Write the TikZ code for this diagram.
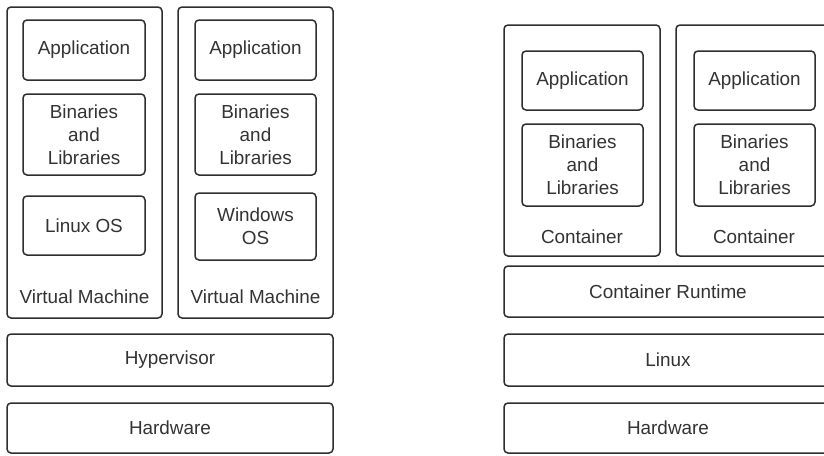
\documentclass[tikz,border=0pt]{standalone}
\usepackage{fontspec}
\setmainfont{Liberation Sans}
\definecolor{edge}{HTML}{2E2E2E}
\definecolor{ink}{HTML}{333333}
\tikzset{
  layer/.style={draw=edge, line width=1.5pt, rounded corners=4pt, inner sep=0pt,
    text=ink, align=center, font=\fontsize{18.9}{23}\selectfont},
  caption/.style={text=ink, inner sep=0pt, font=\fontsize{18.9}{23}\selectfont}
}
\newcommand{\slab}[5]{% name, x-left, y-top, x-right, y-bottom
  \node[layer, minimum width={(#4-#2)*1pt}, minimum height={(#5-#3)*1pt}]
    (#1) at ({(#2+#4)/2}, {(#3+#5)/2}) {};}
\begin{document}
\begin{tikzpicture}[x=1pt, y=-1pt]
  \useasboundingbox (0,0) rectangle (824,455);
  \clip (0,0) rectangle (824,455);

  % ---- virtual machine stack ----
  \slab{vmA}{7}{7}{162}{318}
  \slab{vmB}{178}{7}{333}{318}
  \node[caption] (vmAlabel) at (84.5,297) {Virtual Machine};
  \node[caption] (vmBlabel) at (255.5,297) {Virtual Machine};

  \node[layer, minimum width=122pt, minimum height=60pt] (appA) at (84,50) {Application};
  \node[layer, minimum width=122pt, minimum height=81pt] (binA) at (84,134.5) {Binaries\\and\\Libraries};
  \node[layer, minimum width=122pt, minimum height=59pt] (osA) at (84,225.5) {Linux OS};

  \node[layer, minimum width=121pt, minimum height=60pt] (appB) at (255.5,50) {Application};
  \node[layer, minimum width=121pt, minimum height=81pt] (binB) at (255.5,134.5) {Binaries\\and\\Libraries};
  \node[layer, minimum width=121pt, minimum height=67pt] (osB) at (255.5,226.5) {Windows\\OS};

  \node[layer, minimum width=326pt, minimum height=52pt] (hyper) at (170,360) {Hypervisor};
  \node[layer, minimum width=326pt, minimum height=50pt] (hwA) at (170,428) {Hardware};

  % ---- container stack ----
  \slab{ctA}{504}{25}{660}{256}
  \slab{ctB}{676}{25}{832}{256}
  \node[caption] (ctAlabel) at (582,237) {Container};
  \node[caption] (ctBlabel) at (754,237) {Container};

  \node[layer, minimum width=121pt, minimum height=59pt] (appC) at (582.5,80.5) {Application};
  \node[layer, minimum width=121pt, minimum height=82pt] (binC) at (582.5,165) {Binaries\\and\\Libraries};
  \node[layer, minimum width=121pt, minimum height=59pt] (appD) at (754.5,80.5) {Application};
  \node[layer, minimum width=121pt, minimum height=82pt] (binD) at (754.5,165) {Binaries\\and\\Libraries};

  \node[layer, minimum width=328pt, minimum height=51pt] (runtime) at (668,291.5) {Container Runtime};
  \node[layer, minimum width=328pt, minimum height=52pt] (linux) at (668,360) {Linux};
  \node[layer, minimum width=328pt, minimum height=50pt] (hwB) at (668,428) {Hardware};
\end{tikzpicture}
\end{document}
